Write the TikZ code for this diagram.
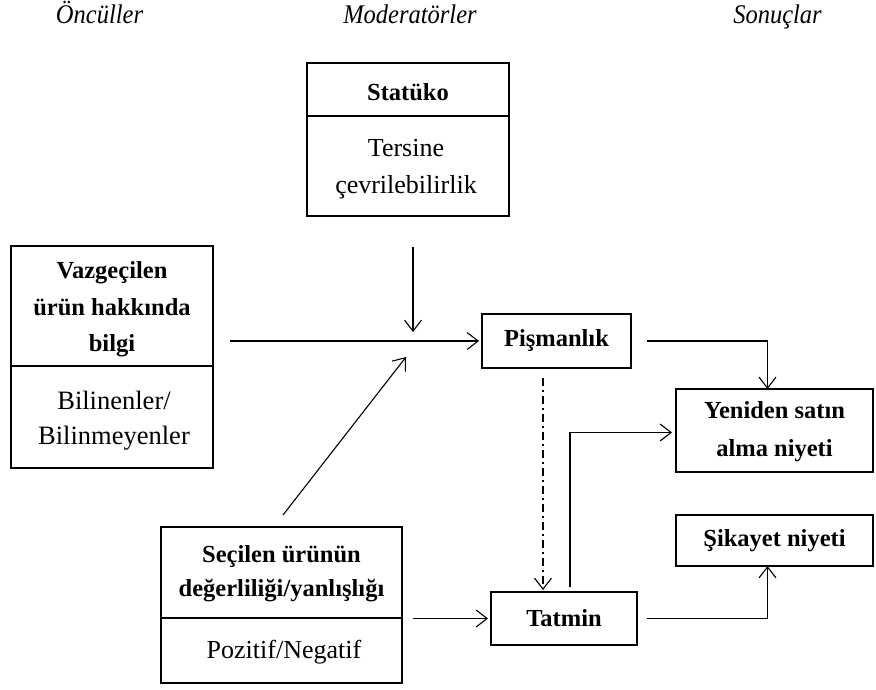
\documentclass[tikz,border=0pt]{standalone}
\usepackage{fontspec}
\setmainfont{Liberation Serif}
\usetikzlibrary{arrows.meta,calc}
\begin{document}
\begin{tikzpicture}[x=1pt,y=-1pt,
  box/.style={draw, line width=1.2pt, inner sep=0pt, outer sep=0pt, anchor=north west, align=center},
  div/.style={line width=1.2pt},
  bt/.style={font=\fontsize{24.5}{36}\selectfont\bfseries, align=center, inner sep=0pt},
  rt/.style={font=\fontsize{26}{36}\selectfont, align=center, inner sep=0pt},
  hd/.style={font=\fontsize{24.5}{30}\selectfont\itshape, inner sep=0pt, anchor=base},
  arr/.style={line width=1.1pt, -{Straight Barb[length=11pt,width=17pt]}},
  dashdot/.style={dash pattern=on 8pt off 4pt on 2pt off 4pt}
]
\useasboundingbox (0,0) rectangle (876,689);

% headers
\node[hd] (h1) at (99.5,23) {\scalebox{1}[1.1]{Öncüller}};
\node[hd] (h2) at (410,23) {\scalebox{1}[1.1]{Moderatörler}};
\node[hd] (h3) at (777.5,23) {\scalebox{1}[1.1]{Sonuçlar}};

% Statüko
\node[box, minimum width=202pt, minimum height=153pt] (stat) at (307,63) {};
\draw[div] ($(stat.north west)+(0,53)$) -- ($(stat.north east)+(0,53)$);
\node[bt] (stattitle) at (408,92) {Statüko};
\node[rt, font=\fontsize{26}{37}\selectfont] (statsub) at (406,169.5) {Tersine\\çevrilebilirlik};

% Vazgeçilen
\node[box, minimum width=202pt, minimum height=222pt] (vaz) at (11,246) {};
\draw[div] ($(vaz.north west)+(0,120)$) -- ($(vaz.north east)+(0,120)$);
\node[bt, font=\fontsize{24.5}{36.5}\selectfont\bfseries] (vaztitle) at (112,309.5) {Vazgeçilen\\ürün hakkında\\bilgi};
\node[rt, font=\fontsize{26.5}{35}\selectfont] (vazsub) at (114,420.5) {Bilinenler/\\Bilinmeyenler};

% Seçilen
\node[box, minimum width=241pt, minimum height=156pt] (sec) at (161,527) {};
\draw[div] ($(sec.north west)+(0,91)$) -- ($(sec.north east)+(0,91)$);
\node[bt, font=\fontsize{24.5}{34}\selectfont\bfseries] (sectitle) at (281.5,573.5) {Seçilen ürünün\\değerliliği/yanlışlığı};
\node[rt] (secsub) at (284,652) {Pozitif/Negatif};

% single boxes
\node[box, minimum width=149pt, minimum height=54pt, font=\fontsize{24.5}{36}\selectfont\bfseries] (pis) at (482,314) {Pişmanlık};
\node[box, minimum width=197pt, minimum height=83pt, font=\fontsize{24.5}{37}\selectfont\bfseries] (yen) at (676,389) {\raisebox{-4pt}{\begin{tabular}{@{}c@{}}Yeniden satın\\[1pt]alma niyeti\end{tabular}}};
\node[box, minimum width=197pt, minimum height=51pt, font=\fontsize{24.5}{36}\selectfont\bfseries] (sik) at (676,515) {Şikayet niyeti};
\node[box, minimum width=146pt, minimum height=53pt, font=\fontsize{24.5}{36}\selectfont\bfseries] (tat) at (491,592) {Tatmin};

% connectors
\coordinate (modtip) at (413,332);
\draw[arr, shorten <=31pt] (modtip |- stat.south) -- (modtip);

\draw[arr, shorten <=17pt, shorten >=3pt] (vaz.east |- pis.west) -- (pis.west);

\coordinate (diagtip) at (406,357);
\draw[arr] ($(sec.north)+(1.5,-12)$) -- (diagtip);

\draw[arr, shorten <=11pt, shorten >=3pt] (sec.east |- tat.west) -- (tat.west);

\draw[arr, shorten <=16pt] (pis.east) -| ($(yen.north)+(-7,0)$);

\coordinate (dd) at (543,0);
\draw[arr, dashdot, shorten <=10pt, shorten >=2pt] (pis.south -| dd) -- (tat.north -| dd);

\draw[arr, shorten <=5pt, shorten >=4pt] ($(tat.north)+(6,0)$) |- ($(yen.west)+(0,2)$);

\draw[arr, shorten <=10pt] (tat.east) -| ($(sik.south)+(-7,0)$);
\end{tikzpicture}
\end{document}
